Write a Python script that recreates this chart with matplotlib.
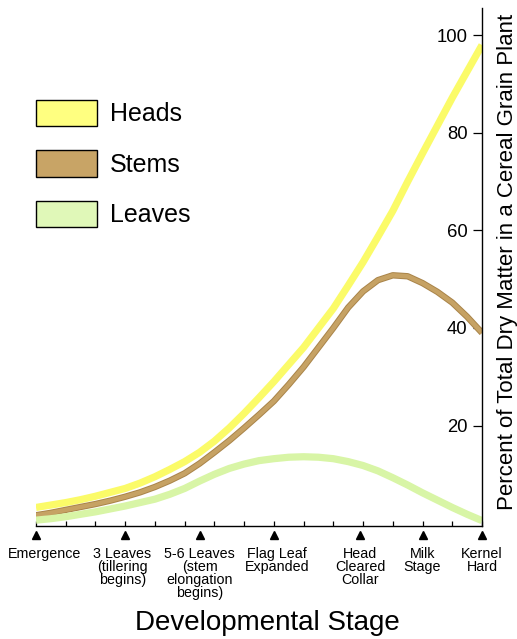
import matplotlib
matplotlib.use('Agg')
import matplotlib.pyplot as plt
import matplotlib.patheffects as pe
from matplotlib.patches import Patch

plt.rcParams['font.family'] = ['Liberation Sans', 'DejaVu Sans']

# stage position (x) for each value, 0 = emergence, 15 = kernel hard, half steps
stage_x = [i * 0.5 for i in range(31)]
heads = [3.2, 3.7, 4.2, 4.8, 5.5, 6.3, 7.1, 8.2, 9.5, 11.0, 12.6, 14.5, 16.8, 19.5, 22.5, 25.7,
         29.0, 32.5, 36.0, 40.0, 44.0, 48.7, 53.5, 58.7, 64.0, 70.0, 75.8, 81.5, 87.2, 92.6, 98.0]
stems = [1.6, 2.1, 2.7, 3.3, 3.9, 4.6, 5.4, 6.3, 7.4, 8.7, 10.2, 12.2, 14.5, 16.9, 19.5, 22.2,
         25.0, 28.4, 32.0, 36.0, 40.0, 44.2, 47.5, 49.8, 50.8, 50.6, 49.2, 47.4, 45.2, 42.3, 39.0]
leaves = [0.6, 0.9, 1.3, 1.8, 2.3, 2.9, 3.5, 4.2, 4.9, 5.9, 7.1, 8.6, 10.0, 11.2, 12.1, 12.8,
          13.2, 13.5, 13.6, 13.5, 13.2, 12.6, 11.8, 10.7, 9.3, 7.8, 6.2, 4.7, 3.2, 1.8, 0.5]

stage_pos = [0, 3, 5.5, 8, 10.9, 13, 15]
label_pos = [0.28, 2.9, 5.5, 8.1, 10.9, 13, 15]
stage_labels = ['Emergence', '3 Leaves\n(tillering\nbegins)', '5-6 Leaves\n(stem\nelongation\nbegins)',
                'Flag Leaf\nExpanded', 'Head\nCleared\nCollar', 'Milk\nStage', 'Kernel\nHard']
minor_ticks = list(range(16))
y_ticks = [20, 40, 60, 80, 100]

col_heads = '#fbfb68'
col_stems = '#c6a264'
col_leaves = '#d8f5a6'

fig = plt.figure(figsize=(5.17, 6.39), dpi=100)
ax = fig.add_axes([36 / 517, 113 / 639, 446 / 517, 518 / 639])

ax.plot(stage_x, heads, color=col_heads, lw=5.2, solid_capstyle='butt', solid_joinstyle='round')
ax.plot(stage_x, stems, color=col_stems, lw=3.2, solid_capstyle='butt', solid_joinstyle='round',
        path_effects=[pe.Stroke(linewidth=4.6, foreground='#a98449'), pe.Normal()])
ax.plot(stage_x, leaves, color=col_leaves, lw=5.2, solid_capstyle='butt', solid_joinstyle='round')

ax.set_xlim(0, 15)
ax.set_ylim(-0.6, 105.6)

for s in ['top', 'right']:
    ax.spines[s].set_visible(False)
ax.spines['left'].set_position(('data', 15))
ax.spines['left'].set_linewidth(1.0)
ax.spines['bottom'].set_linewidth(1.0)

# y axis (drawn at the right end, labels on its left)
ax.set_yticks(y_ticks)
ax.tick_params(axis='y', direction='out', length=6.5, width=0.9, pad=4, labelsize=13.3)

# x axis: inward small ticks, stage labels with triangles
ax.xaxis.remove_overlapping_locs = False
ax.set_xticks(minor_ticks, minor=True)
ax.set_xticks(label_pos)
ax.set_xticklabels(stage_labels, fontsize=10.3, linespacing=0.92)
ax.tick_params(axis='x', which='minor', direction='in', length=3.8, width=0.9)
ax.tick_params(axis='x', which='major', length=0, pad=15)
ax.plot(stage_pos, [-2.5] * len(stage_pos), linestyle='none', marker='^', color='black',
        markersize=5.5, clip_on=False)

fig.text(267 / 517, 1 - 623 / 639, 'Developmental Stage', fontsize=20, ha='center', va='center')
fig.text(507 / 517, 1 - 262 / 639, 'Percent of Total Dry Matter in a Cereal Grain Plant',
         fontsize=16, rotation=90, ha='center', va='center')

handles = [Patch(facecolor='#ffff80', edgecolor='black', lw=1.0, label='Heads'),
           Patch(facecolor='#c8a466', edgecolor='black', lw=1.0, label='Stems'),
           Patch(facecolor='#e0f8b8', edgecolor='black', lw=1.0, label='Leaves')]
fig.legend(handles=handles, loc='upper left', bbox_to_anchor=(36 / 517, 1 - 100 / 639),
           frameon=False, fontsize=18, handlelength=2.45, handleheight=1.23,
           handletextpad=0.5, labelspacing=0.96, borderpad=0, borderaxespad=0)

fig.savefig('out.png', dpi=100)
